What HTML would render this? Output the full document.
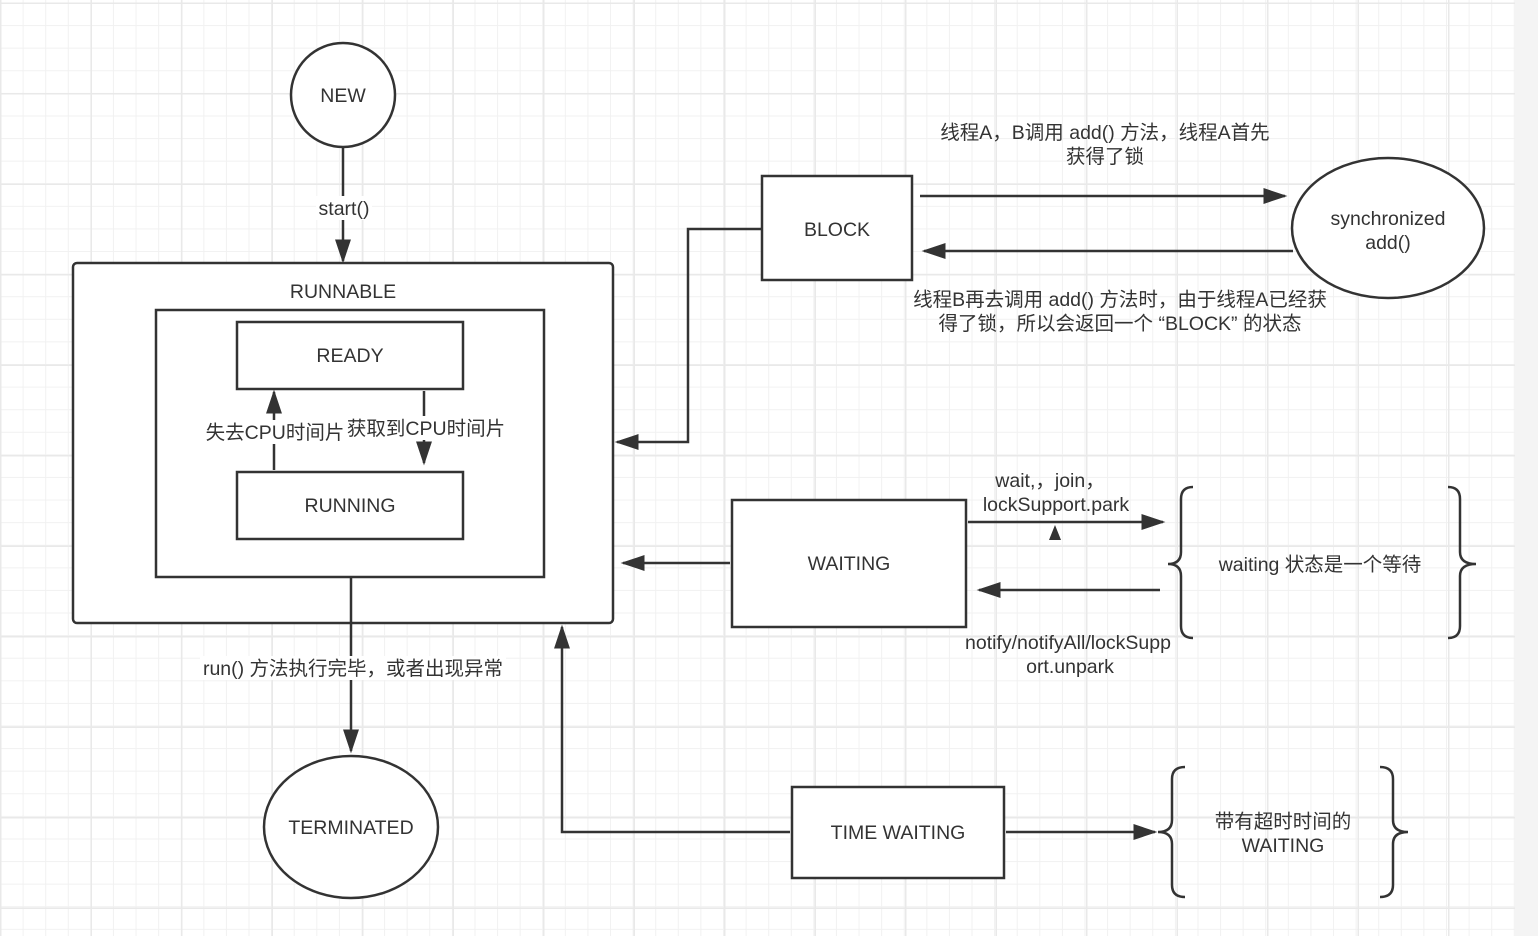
<!DOCTYPE html>
<html><head><meta charset="utf-8"><style>
html,body{margin:0;padding:0;width:1538px;height:936px;overflow:hidden;background:#fff}
.bg{position:absolute;left:0;top:0;width:1515px;height:936px;
background-color:#fff;
background-image:
linear-gradient(to right,#e9e9e9 1.5px,transparent 1.5px),
linear-gradient(to bottom,#e9e9e9 1.5px,transparent 1.5px),
linear-gradient(to right,#f1f1f1 1px,transparent 1px),
linear-gradient(to bottom,#f1f1f1 1px,transparent 1px);
background-size:90.5px 90.5px,90.5px 90.5px,22.6px 22.6px,22.6px 22.6px;
background-position:0 2.5px,0 2.5px,0 2.5px,0 2.5px;}
.side{position:absolute;left:1515px;top:0;width:23px;height:936px;background:#f4f4f4}
svg{position:absolute;left:0;top:0}
text{font-family:"Liberation Sans","Noto Sans CJK SC",sans-serif;font-size:19.5px;fill:#333;text-anchor:middle}
</style></head><body>
<div class="bg"></div><div class="side"></div>
<svg width="1538" height="936" viewBox="0 0 1538 936">
<defs>
<marker id="b" viewBox="0 0 10 10" refX="9" refY="5" markerWidth="24" markerHeight="16" markerUnits="userSpaceOnUse" orient="auto" preserveAspectRatio="none"><path d="M0,0 L10,5 L0,10 z" fill="#333"/></marker>
</defs>
<g stroke="#333" stroke-width="2.5" fill="none">
<circle cx="343" cy="95" r="52" fill="#fff"/>
<line x1="343" y1="148" x2="343" y2="261" marker-end="url(#b)"/>
<rect x="73" y="263" width="540" height="360" rx="4" fill="#fff"/>
<rect x="156" y="310" width="388" height="267" fill="#fff"/>
<rect x="237" y="322" width="226" height="67" fill="#fff"/>
<rect x="237" y="472" width="226" height="67" fill="#fff"/>
<line x1="274" y1="470" x2="274" y2="392" marker-end="url(#b)"/>
<line x1="424" y1="391" x2="424" y2="463" marker-end="url(#b)"/>
<line x1="351" y1="577" x2="351" y2="751" marker-end="url(#b)"/>
<ellipse cx="351" cy="827" rx="87" ry="71" fill="#fff"/>
<rect x="762" y="176" width="150" height="104" fill="#fff"/>
<polyline points="762,229 688,229 688,442 617,442" marker-end="url(#b)"/>
<line x1="920" y1="196" x2="1285" y2="196" marker-end="url(#b)"/>
<line x1="1293" y1="251" x2="924" y2="251" marker-end="url(#b)"/>
<ellipse cx="1388" cy="228" rx="96" ry="70" fill="#fff"/>
<rect x="732" y="500" width="234" height="127" fill="#fff"/>
<line x1="730" y1="563" x2="623" y2="563" marker-end="url(#b)"/>
<line x1="968" y1="522" x2="1163" y2="522" marker-end="url(#b)"/>
<line x1="1160" y1="590" x2="979" y2="590" marker-end="url(#b)"/>
<rect x="792" y="787" width="212" height="91" fill="#fff"/>
<polyline points="790,832 562,832 562,627" marker-end="url(#b)"/>
<line x1="1006" y1="832" x2="1155" y2="832" marker-end="url(#b)"/>
<path d="M1193,487 Q1181,487 1181,499 L1181,552 Q1181,564 1168,564 Q1181,564 1181,576 L1181,626 Q1181,638 1193,638"/>
<path d="M1448,487 Q1460,487 1460,499 L1460,552 Q1460,564 1476,564 Q1460,564 1460,576 L1460,626 Q1460,638 1448,638"/>
<path d="M1185,767 Q1172,767 1172,779 L1172,820 Q1172,832 1158,832 Q1172,832 1172,844 L1172,885 Q1172,897 1185,897"/>
<path d="M1380,767 Q1393,767 1393,779 L1393,820 Q1393,832 1408,832 Q1393,832 1393,844 L1393,885 Q1393,897 1380,897"/>
</g>
<path d="M1049,540 L1055,525 L1061,540 z" fill="#333"/>
<rect x="316" y="196" width="56" height="24" fill="#fff"/>
<rect x="205" y="420" width="140" height="24" fill="#fff"/>
<rect x="346" y="416" width="160" height="24" fill="#fff"/>
<rect x="200" y="656" width="306" height="24" fill="#fff"/>
<text x="343" y="102">NEW</text>
<text x="344" y="215">start()</text>
<text x="343" y="298">RUNNABLE</text>
<text x="350" y="362">READY</text>
<text x="350" y="512">RUNNING</text>
<text x="275" y="439">失去CPU时间片</text>
<text x="426" y="435">获取到CPU时间片</text>
<text x="353" y="675">run() 方法执行完毕，或者出现异常</text>
<text x="351" y="834">TERMINATED</text>
<text x="837" y="236">BLOCK</text>
<text x="1105" y="139">线程A，B调用 add() 方法，线程A首先</text>
<text x="1105" y="163">获得了锁</text>
<text x="1388" y="225">synchronized</text>
<text x="1388" y="249">add()</text>
<text x="1120" y="306">线程B再去调用 add() 方法时，由于线程A已经获</text>
<text x="1120" y="330">得了锁，所以会返回一个 “BLOCK” 的状态</text>
<text x="849" y="570">WAITING</text>
<text x="1050" y="487">wait,，join，</text>
<text x="1056" y="511">lockSupport.park</text>
<text x="1068" y="649">notify/notifyAll/lockSupp</text>
<text x="1070" y="673">ort.unpark</text>
<text x="1320" y="571">waiting 状态是一个等待</text>
<text x="898" y="839">TIME  WAITING</text>
<text x="1283" y="828">带有超时时间的</text>
<text x="1283" y="852">WAITING</text>
</svg>
</body></html>
